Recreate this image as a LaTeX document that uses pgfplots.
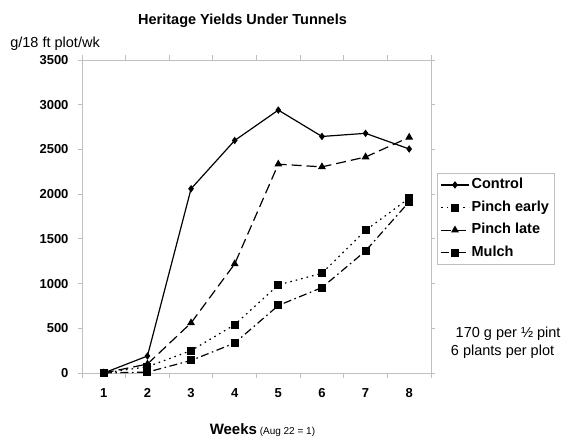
\documentclass[border=0pt]{standalone}
\usepackage{fontspec}
\setmainfont{Liberation Sans}
\usepackage{pgfplots}
\pgfplotsset{compat=1.18}
\usetikzlibrary{plotmarks}

\pgfplotstableread{
week control early late mulch
1 0 0 0 0
2 190 70 100 10
3 2060 250 560 140
4 2600 540 1220 335
5 2940 985 2335 755
6 2645 1115 2305 955
7 2680 1595 2415 1365
8 2505 1955 2635 1915
}\yields

\begin{document}
\begin{tikzpicture}
\path[use as bounding box] (-82pt,-63pt) rectangle (483pt,373pt);
\begin{axis}[
  scale only axis, width=349pt, height=313pt,
  at={(0pt,0pt)}, anchor=south west,
  xmin=0.5, xmax=8.5, ymin=0, ymax=3500,
  clip=false,
  xtick={1,...,8},
  major x tick style={draw=none},
  minor xtick={0.5,1.5,...,8.5},
  ytick={0,500,...,3500},
  tick align=outside,
  major tick length=4pt, minor tick length=5pt,
  axis line style={gray!50, line width=0.9pt},
  tick style={gray!50, line width=0.9pt},
  /pgf/number format/assume math mode=true,
  /pgf/number format/1000 sep={},
  ticklabel style={font=\bfseries\fontsize{13}{15}\selectfont},
  yticklabel style={xshift=-6pt},
  xticklabel style={yshift=-8pt},
  legend style={at={(axis description cs:1.017,0.639)}, anchor=north west,
    draw=gray!50, line width=0.9pt, font=\bfseries\fontsize{14.5}{16}\selectfont,
    nodes={inner sep=2pt, text height=10pt, text depth=3pt},
    row sep=5.6pt, inner xsep=3pt, inner ysep=3pt},
  legend cell align=left,
  legend image code/.code={\draw[mark repeat=2,mark phase=2] plot coordinates {(0pt,0pt) (14pt,0pt) (28pt,0pt)};},
  every axis plot/.append style={black, line width=1.2pt},
]
\addplot[solid, mark=diamond*, mark size=2.8pt, mark options={solid}] table[x=week,y=control] {\yields};
\addlegendentry{Control}
\addplot[dash pattern=on 1.6pt off 4pt, mark=square*, mark size=3.4pt, mark options={solid}] table[x=week,y=early] {\yields};
\addlegendentry{Pinch early}
\addplot[dash pattern=on 10pt off 5pt, mark=triangle*, mark size=3.4pt, mark options={solid}] table[x=week,y=late] {\yields};
\addlegendentry{Pinch late}
\addplot[dash pattern=on 8pt off 3.5pt on 1.6pt off 3.5pt, mark=square*, mark size=3.4pt, mark options={solid}] table[x=week,y=mulch] {\yields};
\addlegendentry{Mulch}

\node[anchor=base] at (axis description cs:0.46,1.112) {\bfseries\fontsize{14.5}{17}\selectfont Heritage Yields Under Tunnels};
\node[anchor=base west, inner sep=0pt] at (axis description cs:-0.206,1.0415) {\fontsize{14.5}{17}\selectfont g/18 ft plot/wk};
\node[anchor=base, inner sep=0pt] at (axis description cs:0.517,-0.195) {{\bfseries\fontsize{15}{17}\selectfont Weeks} {\fontsize{10}{12}\selectfont (Aug 22 = 1)}};
\node[anchor=base, inner sep=0pt] at (axis description cs:1.221,0.115) {\fontsize{14.5}{17}\selectfont 170 g per ½ pint};
\node[anchor=base, inner sep=0pt] at (axis description cs:1.205,0.0575) {\fontsize{14.5}{17}\selectfont 6 plants per plot};
\end{axis}
\end{tikzpicture}
\end{document}
